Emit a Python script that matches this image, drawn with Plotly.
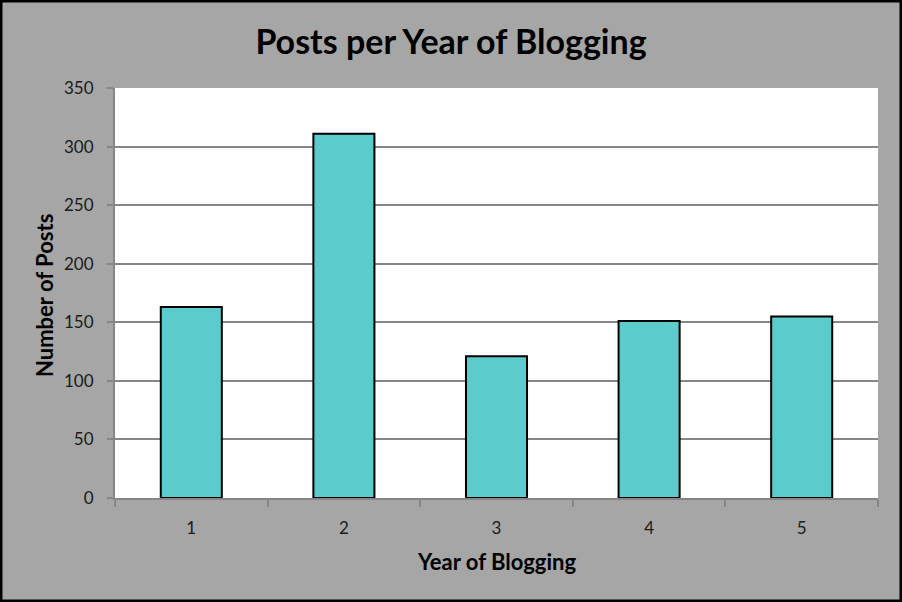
import plotly.graph_objects as go

years = [1, 2, 3, 4, 5]
posts = [163, 311, 121, 151, 155]
y_ticks = [0, 50, 100, 150, 200, 250, 300, 350]

W, H = 902, 602
L, R, T, B = 115, 24, 88, 104
pw, ph = W - L - R, H - T - B

fig = go.Figure(go.Bar(
    x=years, y=posts,
    marker=dict(color="#5BCCCB", line=dict(color="black", width=2)),
    width=0.4,
))

fig.update_layout(
    width=W, height=H,
    margin=dict(l=L, r=R, t=T, b=B),
    paper_bgcolor="#A6A6A6",
    plot_bgcolor="white",
    font=dict(family="Lato, Open Sans, sans-serif", color="#1a1a1a", size=17),
    showlegend=False,
    title=dict(text="<b>Posts per Year of Blogging</b>", x=0.5, xanchor="center",
               y=1 - 42 / H, yanchor="middle",
               font=dict(size=34, color="black")),
)

fig.update_xaxes(
    range=[0.5, 5.5], tickvals=years, ticks="", showgrid=False,
    showline=True, linecolor="#868686", linewidth=2,
    minor=dict(tick0=0.5, dtick=1, ticks="outside", ticklen=7,
               tickcolor="#868686", tickwidth=2, showgrid=False),
    ticklabelstandoff=14,
)
fig.update_yaxes(
    range=[0, 350], tickvals=y_ticks, ticks="outside", ticklen=6,
    tickcolor="#868686", tickwidth=2,
    showgrid=True, gridcolor="#868686", gridwidth=1.5,
    showline=True, linecolor="#868686", linewidth=2,
    zeroline=False, ticklabelstandoff=10,
)

# axis titles
fig.add_annotation(text="<b>Year of Blogging</b>", xref="paper", yref="paper",
                   x=0.5, y=-(561 - 498) / ph, xanchor="center", yanchor="middle",
                   showarrow=False, font=dict(size=22, color="black"))
fig.add_annotation(text="<b>Number of Posts</b>", xref="paper", yref="paper",
                   x=-(115 - 44) / pw, y=(498 - 296) / ph, textangle=-90,
                   xanchor="center", yanchor="middle",
                   showarrow=False, font=dict(size=22, color="black"))

# outer black frame
fig.add_shape(type="rect", xref="paper", yref="paper",
              x0=-(L - 1) / pw, x1=1 + (R - 1) / pw,
              y0=-(B - 1) / ph, y1=1 + (T - 1) / ph,
              line=dict(color="black", width=3), layer="below")

fig.write_html("out.html", config={"displayModeBar": False},
               post_script="document.body.style.margin='0';")
